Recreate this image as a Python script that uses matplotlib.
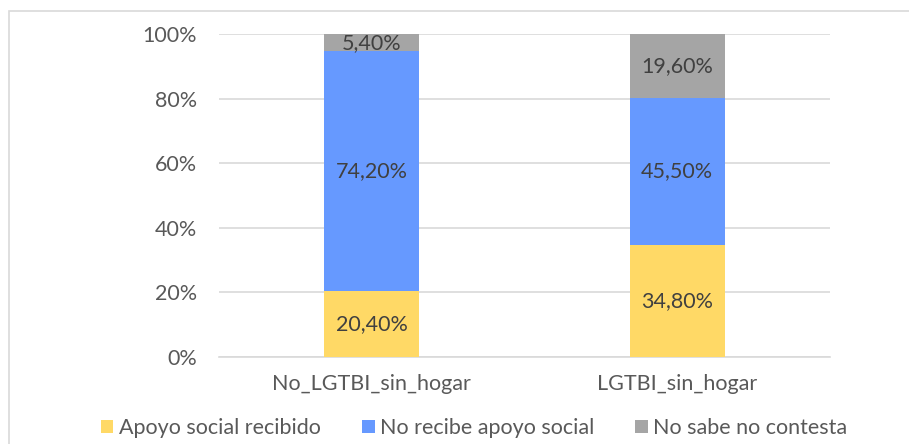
import numpy as np
import matplotlib
matplotlib.use("Agg")
import matplotlib.pyplot as plt
from matplotlib.patches import Rectangle

# Chart data
groups = ["No_LGTBI_sin_hogar", "LGTBI_sin_hogar"]
series_names = ["Apoyo social recibido", "No recibe apoyo social", "No sabe no contesta"]
apoyo = [20.4, 34.8]
no_apoyo = [74.2, 45.5]
ns_nc = [5.4, 19.6]
y_ticks = [0, 20, 40, 60, 80, 100]

colors = ["#FFD966", "#6699FF", "#A5A5A5"]
text_col = "#404040"
tick_col = "#595959"
fs = 15.5

plt.rcParams["font.family"] = ["Lato", "DejaVu Sans"]

fig = plt.figure(figsize=(9.09, 4.44), dpi=100)
ax = fig.add_axes([219 / 909, 1 - 357 / 444, 611 / 909, 323 / 444])

# outer chart border (only left/top edges visible in the crop)
fig.patches.append(Rectangle((9 / 909, -0.1), 1.2, 1 - 11 / 444 + 0.1,
                             transform=fig.transFigure, fill=False,
                             edgecolor="#D9D9D9", linewidth=1.2))

x = np.arange(len(groups))
width = 0.31
bottom = np.zeros(len(groups))
for vals, name, c in zip([apoyo, no_apoyo, ns_nc], series_names, colors):
    vals = np.array(vals)
    ax.bar(x, vals, width, bottom=bottom, color=c, label=name, zorder=3)
    for xi, b, v in zip(x, bottom, vals):
        ax.text(xi, b + v / 2, f"{v:.2f}%".replace(".", ","), ha="center",
                va="center", fontsize=fs, color=text_col, zorder=4)
    bottom += vals

ax.set_xlim(-0.5, 1.5)
ax.set_ylim(0, 100)
ax.set_yticks(y_ticks)
ax.set_yticklabels([f"{t}%" for t in y_ticks])
ax.set_xticks(x)
ax.set_xticklabels(groups)
ax.tick_params(axis="both", length=0, labelsize=fs, colors=tick_col)
ax.tick_params(axis="y", pad=16)
ax.tick_params(axis="x", pad=12)
ax.yaxis.grid(True, color="#D9D9D9", linewidth=1.2, zorder=0)
for s in ["top", "right", "left"]:
    ax.spines[s].set_visible(False)
ax.spines["bottom"].set_color("#D9D9D9")
ax.spines["bottom"].set_linewidth(1.2)

fig.legend(loc="center", bbox_to_anchor=(474 / 909, 1 - 428 / 444), ncol=3,
           frameon=False, fontsize=fs, handlelength=0.6, handleheight=0.6,
           handletextpad=0.25, columnspacing=1.9, labelcolor=tick_col)

fig.savefig("out.png", dpi=100, facecolor="white")
